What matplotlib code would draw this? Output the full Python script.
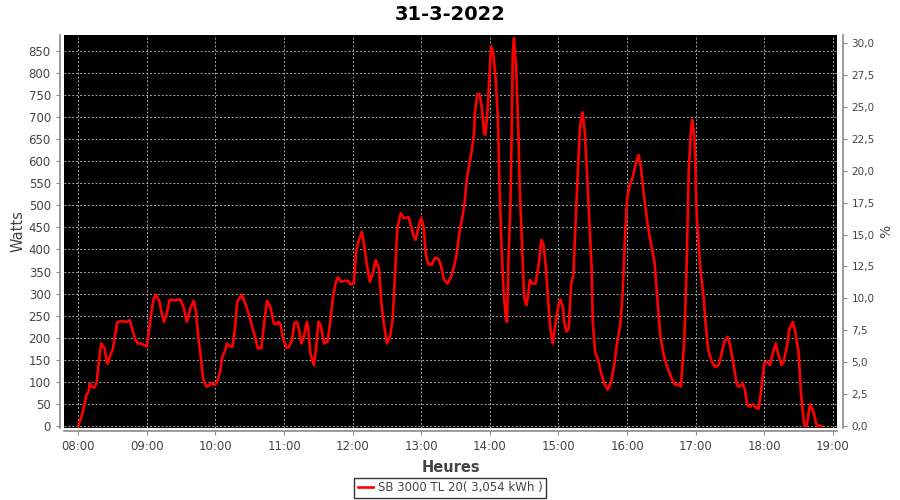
import matplotlib
matplotlib.use("Agg")
import matplotlib.pyplot as plt
from matplotlib.ticker import FixedLocator, FuncFormatter
from matplotlib.lines import Line2D

title = "31-3-2022"
series_label = "SB 3000 TL 20( 3,054 kWh )"

# minutes after 08:00
minutes = [0, 4, 7, 9, 10, 12, 14, 16, 18, 20, 23, 25, 26, 28, 30, 32, 34, 37, 42, 45,
           47, 50, 52, 55, 57, 60, 62, 64, 66, 68, 71, 73, 75, 77, 80, 82, 85, 89, 92, 95,
           98, 101, 103, 105, 107, 109, 112, 114, 116, 119, 121, 124, 126, 128, 130, 133, 135, 137, 139, 143,
           146, 149, 152, 155, 157, 160, 162, 165, 168, 171, 173, 175, 177, 179, 182, 184, 187, 189, 191, 193,
           195, 197, 200, 201, 203, 206, 208, 210, 212, 215, 218, 220, 223, 225, 227, 230, 233, 236, 238, 241,
           243, 245, 248, 250, 252, 255, 258, 260, 263, 265, 267, 270, 273, 275, 277, 279, 282, 285, 289, 293,
           295, 298, 300, 302, 304, 306, 309, 312, 315, 317, 320, 323, 326, 329, 331, 333, 336, 338, 340, 342,
           344, 346, 347, 349, 351, 353, 355, 356, 358, 360, 361, 363, 365, 367, 368, 370, 372, 374, 375, 376,
           378, 379, 380, 381, 383, 385, 386, 388, 390, 392, 393, 395, 397, 400, 403, 405, 407, 409, 411, 413,
           415, 417, 420, 422, 424, 425, 427, 429, 431, 433, 435, 437, 439, 441, 443, 445, 447, 449, 450, 452,
           455, 457, 460, 463, 466, 469, 471, 474, 476, 478, 480, 482, 485, 488, 490, 492, 495, 498, 501, 504,
           506, 509, 512, 515, 519, 522, 525, 527, 530, 532, 534, 536, 537, 539, 541, 544, 547, 549, 551, 554,
           557, 560, 562, 565, 568, 570, 573, 576, 578, 581, 583, 585, 588, 590, 593, 595, 597, 600, 602, 605,
           607, 610, 612, 615, 617, 620, 622, 625, 627, 630, 632, 635, 637, 640, 643, 646, 650]
watts = [0, 32, 70, 78, 97, 89, 87, 97, 146, 187, 176, 142, 142, 161, 172, 202, 235, 238, 236, 240,
         221, 195, 187, 187, 184, 180, 221, 259, 289, 297, 282, 255, 236, 252, 286, 286, 285, 287, 270, 236,
         267, 284, 259, 199, 161, 108, 89, 91, 97, 93, 97, 123, 157, 168, 187, 180, 180, 221, 282, 297,
         278, 255, 225, 199, 176, 176, 221, 284, 270, 233, 230, 236, 229, 199, 178, 178, 195, 233, 236, 221,
         187, 199, 236, 221, 165, 138, 176, 236, 229, 187, 191, 229, 297, 323, 337, 327, 329, 329, 321, 323,
         395, 418, 440, 410, 372, 327, 350, 376, 357, 282, 236, 187, 206, 244, 342, 448, 482, 471, 473, 433,
         422, 456, 471, 452, 388, 367, 365, 381, 379, 365, 331, 323, 338, 365, 391, 433, 474, 508, 565, 592,
         622, 660, 712, 752, 752, 720, 663, 660, 716, 811, 860, 845, 788, 697, 584, 418, 304, 244, 236, 357,
         508, 660, 841, 879, 811, 660, 546, 418, 289, 274, 289, 331, 323, 323, 372, 422, 410, 357, 282, 218,
         187, 225, 274, 286, 267, 236, 214, 221, 320, 342, 463, 584, 682, 711, 667, 569, 463, 357, 236, 168,
         146, 123, 97, 82, 100, 142, 184, 229, 297, 418, 516, 542, 565, 599, 614, 588, 516, 456, 410, 372,
         304, 206, 161, 134, 108, 93, 95, 89, 191, 357, 584, 675, 694, 652, 471, 357, 289, 221, 172, 146,
         134, 138, 157, 191, 202, 184, 142, 93, 89, 97, 82, 48, 44, 49, 41, 39, 74, 142, 146, 138,
         161, 187, 165, 138, 146, 184, 221, 236, 214, 168, 78, 0, 0, 49, 32, 0, 0]

hour_ticks = [8, 9, 10, 11, 12, 13, 14, 15, 16, 17, 18, 19]
watt_ticks = list(range(0, 851, 50))
pct_ticks = [0, 2.5, 5, 7.5, 10, 12.5, 15, 17.5, 20, 22.5, 25, 27.5, 30]

hours = [8 + m / 60.0 for m in minutes]

TICK = "#444444"
SPINE = "#8a8a8a"

fig = plt.figure(figsize=(9, 5), dpi=100)
ax = fig.add_axes([64 / 900, 1 - 428 / 500, (837 - 64) / 900, (428 - 35) / 500])
ax.set_facecolor("black")
ax.plot(hours, watts, color="#ff0000", lw=1.9, solid_joinstyle="round", zorder=3)

ax.set_xlim(7 + 47.5 / 60, 19 + 3.6 / 60)
ax.set_ylim(-4.5, 886)

ax.xaxis.set_major_locator(FixedLocator(hour_ticks))
ax.xaxis.set_major_formatter(FuncFormatter(lambda v, p: "%02d:00" % int(round(v))))
ax.yaxis.set_major_locator(FixedLocator(watt_ticks))

ax.grid(True, color="#a8a8a8", linestyle=(0, (2, 2)), linewidth=0.7, zorder=1)

for s in ["top", "right"]:
    ax.spines[s].set_visible(False)
for s in ["left", "bottom"]:
    ax.spines[s].set_color(SPINE)
    ax.spines[s].set_linewidth(1.2)
ax.spines["left"].set_position(("outward", 3))
ax.spines["bottom"].set_position(("outward", 2))

ax.tick_params(axis="both", colors=SPINE, labelcolor=TICK, labelsize=8.5, length=3, width=0.8)

ax.set_ylabel("Watts", fontsize=10.5, color=TICK, labelpad=2)
ax.set_xlabel("Heures", fontsize=10.5, color=TICK, fontweight="bold", labelpad=5)

ax2 = ax.twinx()
ax2.set_ylim(-0.16, 30.64)
ax2.yaxis.set_major_locator(FixedLocator(pct_ticks))
ax2.yaxis.set_major_formatter(FuncFormatter(lambda v, p: ("%.1f" % v).replace(".", ",")))
for s in ["top", "left", "bottom"]:
    ax2.spines[s].set_visible(False)
ax2.spines["right"].set_color(SPINE)
ax2.spines["right"].set_linewidth(1.2)
ax2.spines["right"].set_position(("outward", 4))
ax2.tick_params(axis="y", colors=SPINE, labelcolor=TICK, labelsize=7.5, length=3, width=0.8)
ax2.set_ylabel("%", fontsize=10, color=TICK, labelpad=3)

fig.suptitle(title, x=450 / 900, y=1 - 14 / 500, va="center", fontsize=14, fontweight="bold", color="black")

handle = Line2D([], [], color="#ff0000", lw=1.9)
leg = fig.legend([handle], [series_label], loc="center", bbox_to_anchor=(450 / 900, 1 - 488 / 500),
                 frameon=True, fancybox=False, fontsize=8.5, handlelength=1.3, handletextpad=0.4,
                 borderpad=0.3, borderaxespad=0)
leg.get_frame().set_edgecolor("black")
leg.get_frame().set_linewidth(1.0)
for t in leg.get_texts():
    t.set_color(TICK)

fig.savefig("out.png", dpi=100)
